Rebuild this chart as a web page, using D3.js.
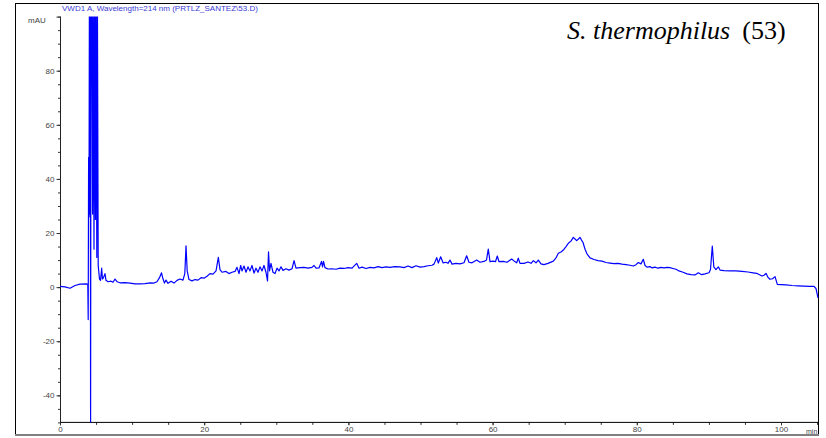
<!DOCTYPE html>
<html>
<head>
<meta charset="utf-8">
<script src="https://cdn.jsdelivr.net/npm/d3@7"></script>
<style>
  html, body { margin: 0; padding: 0; background: #fff; }
  svg { display: block; }
</style>
</head>
<body>
<svg id="chart" width="826" height="438"></svg>
<script>
// ---- data ----
const chartTitle = "VWD1 A, Wavelength=214 nm (PRTLZ_SANTEZ\\53.D)";
const yUnit = "mAU";
const xUnit = "min";
const xMajorTicks = [0, 20, 40, 60, 80, 100];
const yMajorTicks = [-40, -20, 0, 20, 40, 60, 80, 100];
const yLabelTicks = [-40, -20, 0, 20, 40, 60, 80];

const timeMin = [
  0.00, 0.69, 1.39, 2.08, 2.77, 3.74, 3.856, 3.911, 3.967, 4.022, 4.078, 4.133, 4.189, 4.244, 4.300,
  4.411, 4.521, 4.605, 4.716, 4.799, 4.910, 4.993, 5.104, 5.187, 5.298, 5.48, 5.62, 5.78, 5.89, 6.03,
  6.24, 6.38, 6.66, 7.07, 7.35, 7.63, 7.91, 8.32, 9.02, 9.71, 10.40, 11.10, 11.80, 12.50, 13.04,
  13.45, 13.80, 14.08, 14.29, 14.49, 14.70, 14.98, 15.40, 15.81, 16.23, 16.64, 17.06, 17.31, 17.48,
  17.64, 17.89, 18.31, 18.72, 19.14, 19.56, 19.97, 20.39, 20.80, 21.22, 21.64, 21.96, 22.19, 22.47,
  23.02, 23.44, 23.86, 24.27, 24.55, 24.83, 25.06, 25.24, 25.52, 25.80, 26.07, 26.35, 26.63, 26.91,
  27.18, 27.46, 27.74, 28.02, 28.29, 28.57, 28.78, 28.92, 29.06, 29.26, 29.54, 29.82, 30.10, 30.37,
  30.65, 30.93, 31.34, 31.76, 32.18, 32.46, 32.73, 33.29, 33.84, 34.40, 34.95, 35.23, 35.51, 35.92,
  36.27, 36.41, 36.55, 36.75, 37.17, 37.73, 38.28, 38.83, 39.39, 39.94, 40.50, 41.15, 41.47, 41.89,
  42.44, 43.00, 43.55, 44.11, 44.66, 45.22, 45.77, 46.46, 47.16, 47.71, 48.27, 48.82, 49.38, 49.93,
  50.49, 51.04, 51.60, 51.87, 52.25, 52.47, 52.80, 53.12, 53.54, 53.81, 54.09, 54.37, 54.92, 55.48,
  56.03, 56.40, 56.72, 57.14, 57.79, 58.25, 58.81, 59.15, 59.40, 59.64, 60.06, 60.40, 60.65, 60.89,
  61.44, 62.00, 62.65, 62.97, 63.34, 63.56, 63.80, 64.35, 64.91, 65.33, 65.65, 66.02, 66.34, 66.71,
  67.13, 67.68, 68.42, 68.79, 69.11, 69.49, 69.81, 70.18, 70.50, 70.87, 71.19, 71.43, 71.66, 71.91,
  72.12, 72.33, 72.54, 72.82, 73.09, 73.51, 74.06, 74.62, 75.17, 75.73, 76.28, 76.84, 77.39, 77.95,
  78.50, 79.06, 79.52, 79.89, 80.21, 80.58, 80.90, 81.14, 81.41, 81.83, 82.11, 82.52, 82.94, 83.36,
  83.77, 84.19, 84.60, 85.02, 85.44, 85.85, 86.41, 86.96, 87.52, 88.07, 88.53, 89.00, 89.46, 90.01,
  90.22, 90.47, 90.68, 90.98, 91.31, 91.54, 92.09, 92.93, 93.76, 94.59, 95.42, 96.12, 96.63, 97.09,
  97.36, 97.64, 97.92, 98.20, 98.47, 98.82, 99.17, 99.49, 100.00, 100.69, 101.53, 102.36, 103.19,
  104.02, 104.58, 104.85, 105.13
];
const signalMAU = [
  0.3, 0.1, -0.4, 0.6, 1.1, 1.2, 1.0, -12, 48, 26, 110, 27, 110, -55, 110,
  110, 27, 110, 14, 110, 25, 110, 11, 110, 8, 3, 2.5, 7, 3, 3.5,
  5, 2.5, 2, 2.2, 1.8, 3, 2, 1.6, 1.7, 1.5, 1.2, 1.2, 1.3, 1.6, 1.5,
  2, 3.5, 5.3, 3, 1.5, 2.6, 1.4, 2.2, 1.5, 2.5, 3, 2.6, 5, 15.3,
  6, 2.8, 2.3, 2.8, 2.6, 3.5, 3.3, 4, 5, 4.8, 6, 11, 6.5, 5.5,
  5.8, 5, 5.5, 5.8, 7.3, 5, 8, 6, 7.8, 5.5, 7.5, 6, 8, 5.2,
  7, 5.5, 7.5, 6, 8, 5.5, 2.3, 13, 6, 8.8, 5.5, 5, 7, 6,
  7.5, 6.2, 6.8, 6.3, 6.8, 9.8, 7, 7.2, 7.3, 7, 7.3, 8, 7, 7.1,
  9.5, 7.5, 9.5, 7.2, 6.7, 6.8, 6.6, 7.0, 6.9, 7.2, 7.0, 8.8, 7.0, 7.4,
  6.9, 7.3, 7.1, 7.6, 7.2, 7.5, 7.3, 7.6, 7.5, 7.2, 7.8, 7.2, 7.9, 7.4,
  7.6, 7.9, 8.1, 8.5, 10.9, 8.9, 11.2, 9, 9.2, 8.8, 10.0, 8.5, 8.8, 8.6,
  9.0, 11.6, 9.2, 9.0, 10.0, 9.2, 9.5, 10, 14.1, 9.4, 9.6, 9.4, 11.5, 9.4,
  9.5, 9.2, 10.4, 9.7, 9.0, 10.7, 8.8, 8.8, 9.3, 8.8, 9.8, 9.0, 10.0, 8.6,
  8.3, 8.8, 9.6, 10.8, 12.5, 13.0, 13.7, 15.0, 16.2, 17.0, 18.4, 17.8, 17.2, 17.8,
  18.4, 17.4, 16.5, 14, 12.3, 10.8, 10.2, 9.8, 9.6, 9.1, 8.9, 8.7, 8.8, 8.5,
  8.3, 8.1, 7.8, 8.3, 9.1, 8.6, 10.3, 8.0, 7.4, 7.6, 7.1, 7.4, 7.0, 7.3,
  7.1, 7.3, 7.2, 6.9, 6.6, 6.0, 5.5, 4.9, 4.6, 4.5, 5.3, 4.6, 4.9, 5.3,
  6.5, 15.2, 7.5, 6.5, 7.5, 6.3, 6.1, 6.0, 6.0, 5.8, 5.6, 5.3, 5.1, 4.5,
  4.1, 4.4, 5.1, 3.6, 2.9, 3.1, 3.9, 1.0, 0.9, 0.8, 0.6, 0.5, 0.4,
  0.3, 0.3, -0.5, -4.0
];
const annotationItalic = "S. thermophilus";
const annotationPlain = "(53)";

// ---- drawing ----
const svg = d3.select("#chart");
const plot = { left: 60, right: 818, top: 16.6, bottom: 422.4 };

const x = d3.scaleLinear().domain([0, 105.13]).range([plot.left, plot.right]);
const y = d3.scaleLinear().domain([-50, 100]).range([plot.bottom, plot.top]);

// outer frame
svg.append("line").attr("x1", 15.5).attr("x2", 15.5).attr("y1", 3).attr("y2", 435.5)
  .attr("stroke", "#000").attr("stroke-width", 1);
svg.append("line").attr("x1", 15).attr("x2", 818.5).attr("y1", 3.5).attr("y2", 3.5)
  .attr("stroke", "#000").attr("stroke-width", 1);
svg.append("line").attr("x1", 818.5).attr("x2", 818.5).attr("y1", 3).attr("y2", 435.5)
  .attr("stroke", "#000").attr("stroke-width", 1);
svg.append("line").attr("x1", 15).attr("x2", 819).attr("y1", 435).attr("y2", 435)
  .attr("stroke", "#808080").attr("stroke-width", 2);

const font = "'Liberation Sans', Arial, sans-serif";

// title
svg.append("text").attr("x", 62).attr("y", 11)
  .attr("font-family", font).attr("font-size", 8).attr("fill", "#3a3ad6")
  .text(chartTitle);

// clip
svg.append("defs").append("clipPath").attr("id", "clip")
  .append("rect").attr("x", plot.left).attr("y", plot.top)
  .attr("width", plot.right - plot.left + 1).attr("height", plot.bottom - plot.top);

// y axis minor
const yMinor = d3.range(-50, 100.1, 5);
const yAxisMinor = d3.axisLeft(y).tickValues(yMinor).tickSize(2.5).tickFormat("");
const gyMinor = svg.append("g").attr("transform", `translate(${plot.left + 0.5},0)`).call(yAxisMinor);
gyMinor.select(".domain").remove();
gyMinor.selectAll("line").attr("stroke", "#333");

const yAxisMajor = d3.axisLeft(y).tickValues(yMajorTicks).tickSize(4).tickPadding(2)
  .tickFormat(d => yLabelTicks.includes(d) ? d : "");
const gy = svg.append("g").attr("transform", `translate(${plot.left + 0.5},0)`).call(yAxisMajor);
gy.select(".domain").attr("d", `M0,${plot.top}V${plot.bottom}`).attr("stroke", "#222");
gy.selectAll("line").attr("stroke", "#333");
gy.selectAll("text").attr("font-family", font).attr("font-size", 8).attr("fill", "#444");

svg.append("text").attr("x", 28).attr("y", 23)
  .attr("font-family", font).attr("font-size", 8).attr("fill", "#444").text(yUnit);

// x axis
const xMinor = d3.range(0, 105.1, 5);
const xAxisMinor = d3.axisBottom(x).tickValues(xMinor).tickSize(2.5).tickFormat("");
const gxMinor = svg.append("g").attr("transform", `translate(0,${plot.bottom})`).call(xAxisMinor);
gxMinor.select(".domain").remove();
gxMinor.selectAll("line").attr("stroke", "#333");

const xAxisMajor = d3.axisBottom(x).tickValues(xMajorTicks).tickSize(3).tickPadding(1)
  .tickFormat(d3.format("d"));
const gx = svg.append("g").attr("transform", `translate(0,${plot.bottom})`).call(xAxisMajor);
gx.select(".domain").attr("d", `M${plot.left},0H${plot.right}`).attr("stroke", "#000");
gx.selectAll("line").attr("stroke", "#333");
gx.selectAll("text").attr("font-family", font).attr("font-size", 8).attr("fill", "#444");

svg.append("text").attr("x", 806).attr("y", 434)
  .attr("font-family", font).attr("font-size", 7).attr("fill", "#444").text(xUnit);

// signal trace
const pts = timeMin.map((t, i) => [t, signalMAU[i]]);
const line = d3.line().x(d => x(d[0])).y(d => y(d[1]));
svg.append("path").datum(pts)
  .attr("clip-path", "url(#clip)")
  .attr("d", line)
  .attr("fill", "none").attr("stroke", "#0000ff").attr("stroke-width", 1.2)
  .attr("stroke-linejoin", "round");

// annotation
const ann = svg.append("text").attr("x", 567).attr("y", 39)
  .attr("font-family", "'Liberation Serif', 'Times New Roman', serif")
  .attr("font-size", 26).attr("fill", "#000");
ann.append("tspan").attr("font-style", "italic").text(annotationItalic);
ann.append("tspan").attr("dx", 12).text(annotationPlain);
</script>
</body>
</html>
